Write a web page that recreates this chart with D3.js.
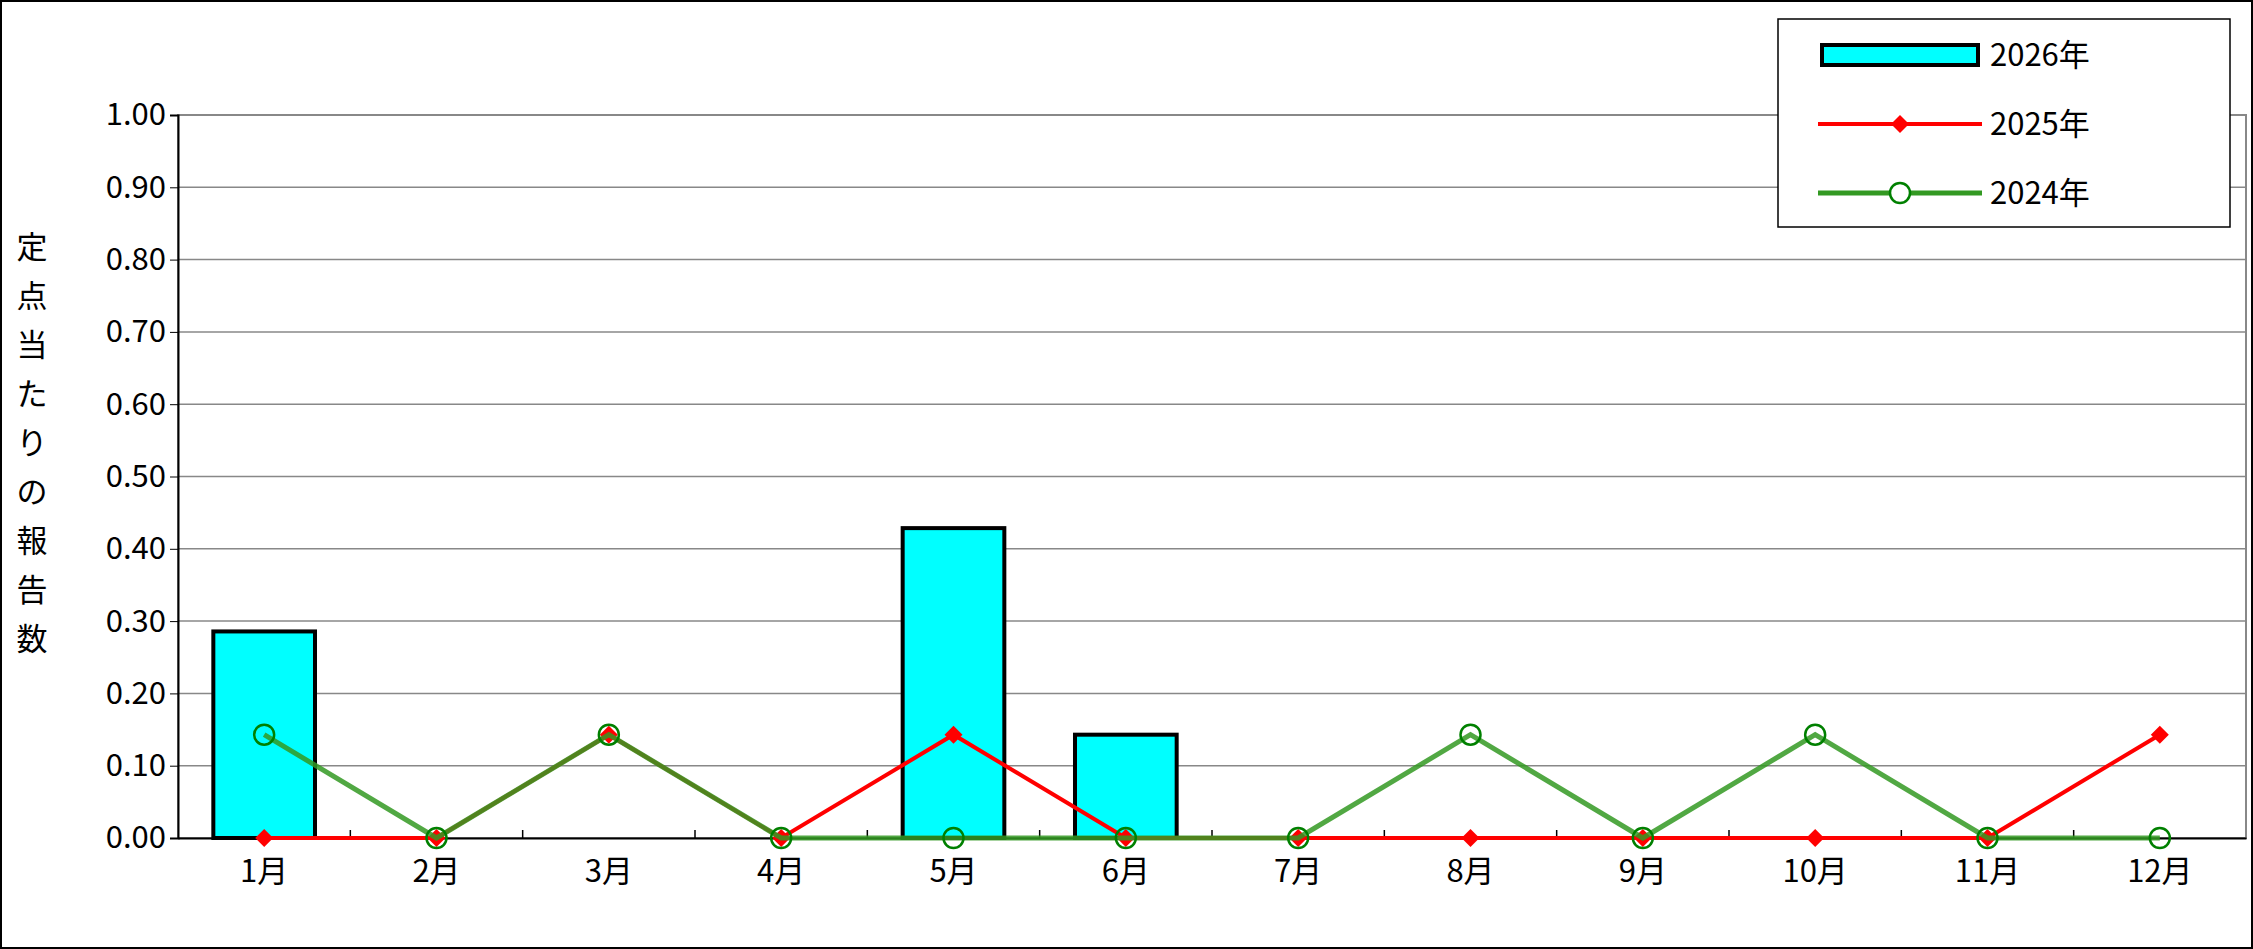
<!DOCTYPE html><html><head><meta charset="utf-8"><script src="https://cdn.jsdelivr.net/npm/d3@7"></script>
<style>body{margin:0;background:#fff}svg{display:block}text{font-family:"Noto Sans CJK JP","Noto Sans",sans-serif}</style></head><body>
<script>
const months=["1月","2月","3月","4月","5月","6月","7月","8月","9月","10月","11月","12月"];
const s2026=[0.2857,0,0,0,0.4286,0.1429,null,null,null,null,null,null];
const s2025=[0,0,0.1429,0,0.1429,0,0,0,0,0,0,0.1429];
const s2024=[0.1429,0,0.1429,0,0,0,0,0.1429,0,0.1429,0,0];
const yTicks=[0,0.1,0.2,0.3,0.4,0.5,0.6,0.7,0.8,0.9,1.0];
const W=2253,H=949,L=178,R=2246,T=115,B=838;
const svg=d3.select("body").append("svg").attr("width",W).attr("height",H);
svg.append("rect").attr("x",1).attr("y",1).attr("width",W-2).attr("height",H-2).attr("fill","#fff").attr("stroke","#000").attr("stroke-width",2);
const x=d3.scaleBand().domain(months).range([L,R]);
const y=d3.scaleLinear().domain([0,1]).range([B,T]);
const diamond="M0,-9L9,0L0,9L-9,0Z";
svg.append("g").selectAll("line").data(yTicks).join("line").attr("x1",L).attr("x2",R).attr("y1",d=>y(d)).attr("y2",d=>y(d)).attr("stroke","#888").attr("stroke-width",1.5);
svg.append("rect").attr("x",L).attr("y",T).attr("width",R-L).attr("height",B-T).attr("fill","none").attr("stroke","#888").attr("stroke-width",2);
const ya=svg.append("g").attr("transform",`translate(${L},0)`).call(d3.axisLeft(y).tickValues(yTicks).tickFormat(d3.format(".2f")).tickSize(8));
ya.selectAll("text").attr("font-size",31).attr("fill","#000").attr("x",-12);
ya.select(".domain").attr("stroke","#000").attr("stroke-width",2);
const xa=svg.append("g").attr("transform",`translate(0,${B})`).call(d3.axisBottom(x).tickSize(0).tickPadding(22));
xa.selectAll("text").attr("font-size",31).attr("fill","#000");
xa.select(".domain").attr("stroke","#000").attr("stroke-width",2);
svg.append("g").selectAll("line").data(months.slice(1)).join("line").attr("x1",d=>x(d)).attr("x2",d=>x(d)).attr("y1",B).attr("y2",B-8).attr("stroke","#000").attr("stroke-width",1.5);
const bw=x.bandwidth()*0.59;
svg.append("g").selectAll("rect").data(months.map((m,i)=>[m,s2026[i]]).filter(d=>d[1]!=null&&d[1]>0)).join("rect")
.attr("x",d=>x(d[0])+(x.bandwidth()-bw)/2).attr("width",bw).attr("y",d=>y(d[1])).attr("height",d=>B-y(d[1])).attr("fill","#00ffff").attr("stroke","#000").attr("stroke-width",4);
const cx=m=>x(m)+x.bandwidth()/2;
const line=d3.line().x((d,i)=>cx(months[i])).y(d=>y(d));
svg.append("path").attr("d",line(s2025)).attr("fill","none").attr("stroke","#ff0000").attr("stroke-width",4);
svg.append("g").selectAll("path").data(s2025).join("path").attr("d",diamond).attr("transform",(d,i)=>`translate(${cx(months[i])},${y(d)})`).attr("fill","#ff0000");
svg.append("path").attr("d",line(s2024)).attr("fill","none").attr("stroke","#339922").attr("stroke-opacity",0.85).attr("stroke-width",5);
svg.append("g").selectAll("circle").data(s2024).join("circle").attr("cx",(d,i)=>cx(months[i])).attr("cy",d=>y(d)).attr("r",10).attr("fill","none").attr("stroke","#008000").attr("stroke-width",2.5);
const lab="定点当たりの報告数".split("");
svg.append("g").selectAll("text").data(lab).join("text").attr("x",32).attr("y",(d,i)=>258+i*49).attr("text-anchor","middle").attr("font-size",31).text(d=>d);
const lg=svg.append("g");
lg.append("rect").attr("x",1778).attr("y",19).attr("width",452).attr("height",208).attr("fill","#fff").attr("stroke","#000").attr("stroke-width",1.5);
const ly=[55,124,193],lx1=1818,lx2=1982;
lg.append("rect").attr("x",lx1+4).attr("y",ly[0]-10).attr("width",lx2-lx1-8).attr("height",20).attr("fill","#00ffff").attr("stroke","#000").attr("stroke-width",4);
lg.append("line").attr("x1",lx1).attr("x2",lx2).attr("y1",ly[1]).attr("y2",ly[1]).attr("stroke","#ff0000").attr("stroke-width",4);
lg.append("path").attr("d",diamond).attr("transform",`translate(${(lx1+lx2)/2},${ly[1]})`).attr("fill","#ff0000");
lg.append("line").attr("x1",lx1).attr("x2",lx2).attr("y1",ly[2]).attr("y2",ly[2]).attr("stroke","#339922").attr("stroke-width",5);
lg.append("circle").attr("cx",(lx1+lx2)/2).attr("cy",ly[2]).attr("r",10).attr("fill","#fff").attr("stroke","#008000").attr("stroke-width",2.5);
lg.selectAll("text.l").data(["2026年","2025年","2024年"]).join("text").attr("x",1990).attr("y",(d,i)=>ly[i]+11).attr("font-size",31).text(d=>d);
</script></body></html>
